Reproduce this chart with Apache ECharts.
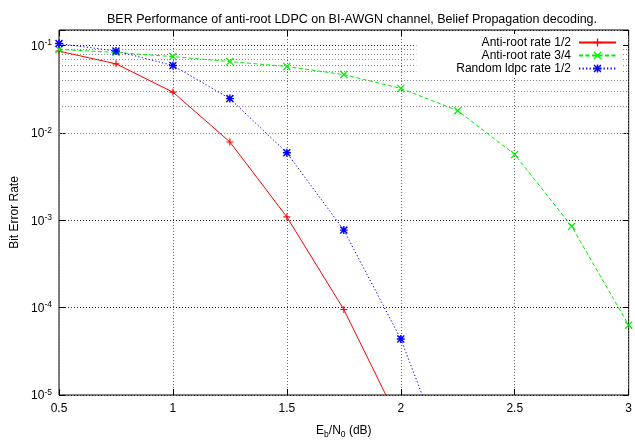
<!DOCTYPE html>
<html>
<head>
<meta charset="utf-8">
<script src="https://cdn.jsdelivr.net/npm/echarts@6/dist/echarts.min.js"></script>
<style>html,body{margin:0;padding:0;background:#fff;}#c{width:635px;height:444px;}</style>
</head>
<body>
<div id="c"></div>
<script>
// ---- data ----
const ebn0 = [0.5, 0.75, 1.0, 1.25, 1.5, 1.75, 2.0, 2.25, 2.5, 2.75, 3.0];
const antiRootHalf = [0.086, 0.0615, 0.0292, 0.00785, 0.00109, 0.000095, 0.0000045];
const antiRootThreeQuarter = [0.09, 0.083, 0.0744, 0.0653, 0.0574, 0.0463, 0.0322, 0.0179, 0.00565, 0.00085, 0.000063];
const randomHalf = [0.105, 0.0863, 0.0589, 0.0246, 0.0059, 0.00077, 0.0000437, 0.00000087];
const seriesNames = ['Anti-root rate 1/2', 'Anti-root rate 3/4', 'Random ldpc rate 1/2'];
const xTicks = [0.5, 1, 1.5, 2, 2.5, 3];
const minorGrid = [];
[1e-5, 1e-4, 1e-3, 1e-2].forEach(function (d) {
  [2, 3, 4, 5, 6, 7, 8, 9].forEach(function (m) { minorGrid.push(+(m * d).toPrecision(3)); });
});

const FONT = 'Liberation Sans, Arial, Helvetica, sans-serif';
function pairs(vals) { return vals.map(function (v, i) { return [ebn0[i], v]; }); }

const plusPath = 'path://M4.2,0H5.8V4.2H10V5.8H5.8V10H4.2V5.8H0V4.2H4.2Z';
const crossPath = 'path://M0,1.1L1.1,0L10,8.9L8.9,10Z M8.9,0L10,1.1L1.1,10L0,8.9Z';
const starPath = 'path://M4.1,0H5.9V10H4.1Z M0,4.1H10V5.9H0Z M0,1.3L1.3,0L10,8.7L8.7,10Z M8.7,0L10,1.3L1.3,10L0,8.7Z';

const chart = echarts.init(document.getElementById('c'), null, {renderer: 'canvas'});

function yLabel(v) {
  const e = Math.log10(v);
  if (Math.abs(e - Math.round(e)) > 1e-6) return '';
  return '{b|10}{s|' + Math.round(e) + '}';
}

const axisCommonY = {
  type: 'log', logBase: 10, min: 1e-5, max: 0.15,
  axisLine: {show: false},
  axisTick: {show: true, inside: true, length: 6, lineStyle: {color: '#000'}}
};

chart.setOption({
  animation: false,
  backgroundColor: '#fff',
  title: {
    text: 'BER Performance of anti-root LDPC on BI-AWGN channel, Belief Propagation decoding.',
    left: 347, top: 8, textAlign: 'center',
    textStyle: {fontFamily: FONT, fontSize: 12.5, fontWeight: 'normal', color: '#000'}
  },
  grid: {left: 59, right: 3, top: 30, bottom: 44, show: true, borderColor: '#000', borderWidth: 1, backgroundColor: 'transparent'},
  legend: {
    data: seriesNames,
    orient: 'vertical', align: 'right',
    right: 12, top: 34,
    padding: [2, 6, 1, 40],
    backgroundColor: '#fff',
    itemWidth: 37, itemHeight: 10, itemGap: 0,
    textStyle: {fontFamily: FONT, fontSize: 12, color: '#000', lineHeight: 13, padding: [0, 3, 0, 0]},
    selectedMode: false
  },
  xAxis: [{
    type: 'value', min: 0.5, max: 3, interval: 0.5,
    name: '{n|E}{sub|b}{n|/N}{sub|0}{n| (dB)}',
    nameLocation: 'middle', nameGap: 30,
    nameTextStyle: {
      fontFamily: FONT, color: '#000',
      rich: {
        n: {fontFamily: FONT, fontSize: 12, color: '#000', verticalAlign: 'top'},
        sub: {fontFamily: FONT, fontSize: 8.5, color: '#000', verticalAlign: 'top', padding: [5, 0, 0, 0]}
      }
    },
    axisLine: {show: false},
    axisTick: {show: true, inside: true, length: 6, lineStyle: {color: '#000'}},
    axisLabel: {fontFamily: FONT, fontSize: 12, color: '#000', margin: 8,
      formatter: function (v) { return xTicks.indexOf(+v.toFixed(2)) >= 0 ? String(+v.toFixed(2)) : ''; }},
    splitLine: {show: true, lineStyle: {color: '#666', type: [1, 2], width: 1}}
  }, {
    type: 'value', min: 0.5, max: 3, interval: 0.5, position: 'top',
    axisLine: {show: false},
    axisTick: {show: true, inside: true, length: 6, lineStyle: {color: '#000'}},
    axisLabel: {show: false}, splitLine: {show: false}
  }],
  yAxis: [Object.assign({}, axisCommonY, {
    name: 'Bit Error Rate', nameLocation: 'middle', nameGap: 38,
    nameTextStyle: {fontFamily: FONT, fontSize: 12, color: '#000'},
    axisLabel: {
      margin: 7, formatter: yLabel,
      rich: {
        b: {fontFamily: FONT, fontSize: 12, color: '#000', verticalAlign: 'bottom'},
        s: {fontFamily: FONT, fontSize: 8.5, color: '#000', verticalAlign: 'bottom', padding: [0, 0, 5, 0]}
      }
    },
    splitLine: {show: true, lineStyle: {color: '#222', type: [1, 2], width: 1}}
  }), Object.assign({}, axisCommonY, {
    position: 'right', axisLabel: {show: false}, splitLine: {show: false}
  })],
  series: [
    {
      name: '_grid', type: 'line', data: [[0.5, 0.1]], showSymbol: false, silent: true,
      lineStyle: {opacity: 0}, z: 1,
      markLine: {
        silent: true, symbol: 'none', z: 1, animation: false,
        label: {show: false},
        lineStyle: {color: '#888', type: [1, 2], width: 1},
        emphasis: {disabled: true},
        data: minorGrid.map(function (v) { return {yAxis: v}; })
      }
    },
    {
      name: seriesNames[0], type: 'line', data: pairs(antiRootHalf), z: 3,
      symbol: plusPath, symbolSize: 7, showAllSymbol: true,
      itemStyle: {color: '#ff0000'},
      lineStyle: {color: '#ff0000', width: 1, type: 'solid'}
    },
    {
      name: seriesNames[1], type: 'line', data: pairs(antiRootThreeQuarter), z: 3,
      symbol: crossPath, symbolSize: 8, showAllSymbol: true,
      itemStyle: {color: '#00ee00'},
      lineStyle: {color: '#00ee00', width: 1, type: [4, 2.5]}
    },
    {
      name: seriesNames[2], type: 'line', data: pairs(randomHalf), z: 4,
      symbol: starPath, symbolSize: 8, showAllSymbol: true,
      itemStyle: {color: '#0000ff'},
      lineStyle: {color: '#0000ff', width: 1, type: [1.3, 2.2]}
    }
  ]
});
</script>
</body>
</html>
